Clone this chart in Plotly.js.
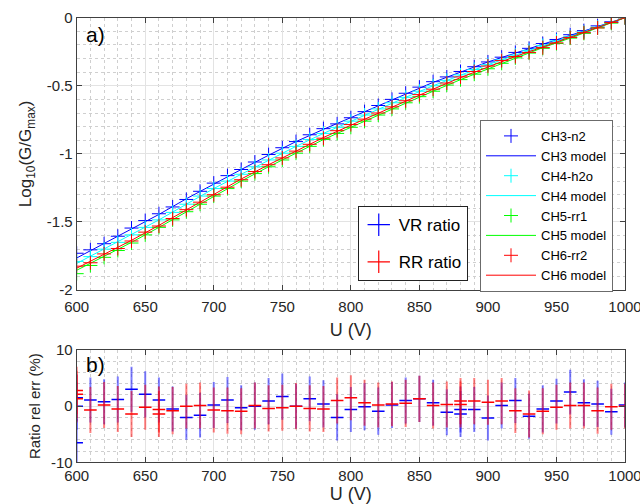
<!DOCTYPE html>
<html>
<head>
<meta charset="utf-8">
<script src="https://cdn.plot.ly/plotly-3.0.1.min.js"></script>
<style>html,body{margin:0;padding:0;background:#fff}#chart{width:640px;height:504px}</style>
</head>
<body>
<div id="chart"></div>
<script>
// ---------- data ----------
const U = [600,610,620,630,640,650,660,670,680,690,700,710,720,730,740,750,760,770,780,790,800,810,820,830,840,850,860,870,880,890,900,910,920,930,940,950,960,970,980,990,1000];
const ch3 = [-1.73,-1.705,-1.66,-1.605,-1.545,-1.49,-1.44,-1.39,-1.335,-1.275,-1.215,-1.16,-1.115,-1.06,-1.005,-0.955,-0.91,-0.86,-0.815,-0.78,-0.735,-0.69,-0.645,-0.60,-0.555,-0.51,-0.47,-0.435,-0.395,-0.36,-0.325,-0.29,-0.255,-0.225,-0.19,-0.16,-0.125,-0.095,-0.06,-0.03,0];
const ch4 = [-1.79,-1.755,-1.70,-1.65,-1.595,-1.54,-1.485,-1.43,-1.37,-1.31,-1.255,-1.20,-1.15,-1.095,-1.045,-0.995,-0.945,-0.895,-0.85,-0.805,-0.76,-0.715,-0.67,-0.625,-0.585,-0.54,-0.50,-0.46,-0.42,-0.38,-0.345,-0.31,-0.275,-0.24,-0.205,-0.17,-0.14,-0.105,-0.07,-0.035,0];
const ch5 = [-1.88,-1.82,-1.76,-1.71,-1.655,-1.595,-1.54,-1.485,-1.425,-1.37,-1.31,-1.255,-1.20,-1.145,-1.095,-1.045,-0.995,-0.945,-0.895,-0.85,-0.805,-0.76,-0.715,-0.67,-0.625,-0.58,-0.54,-0.495,-0.455,-0.415,-0.375,-0.335,-0.295,-0.26,-0.225,-0.19,-0.15,-0.115,-0.075,-0.04,0];
const ch6 = [-1.825,-1.80,-1.735,-1.695,-1.64,-1.575,-1.53,-1.475,-1.41,-1.355,-1.30,-1.245,-1.19,-1.13,-1.08,-1.03,-0.98,-0.93,-0.885,-0.83,-0.785,-0.745,-0.70,-0.655,-0.61,-0.565,-0.525,-0.48,-0.435,-0.395,-0.355,-0.315,-0.285,-0.255,-0.22,-0.185,-0.145,-0.11,-0.075,-0.035,0];

const Um = [600,620,640,660,680,700,720,740,760,780,800,820,840,860,880,900,920,940,960,980,1000];
const ch3Model = [-1.765,-1.66,-1.555,-1.445,-1.33,-1.22,-1.115,-1.01,-0.91,-0.82,-0.735,-0.645,-0.56,-0.475,-0.40,-0.325,-0.26,-0.195,-0.13,-0.065,0];
const ch4Model = [-1.805,-1.70,-1.595,-1.485,-1.37,-1.255,-1.15,-1.045,-0.945,-0.85,-0.76,-0.67,-0.585,-0.50,-0.42,-0.345,-0.275,-0.205,-0.14,-0.07,0];
const ch5Model = [-1.855,-1.755,-1.65,-1.54,-1.425,-1.31,-1.20,-1.095,-0.995,-0.895,-0.805,-0.715,-0.625,-0.54,-0.455,-0.375,-0.295,-0.22,-0.15,-0.075,0];
const ch6Model = [-1.84,-1.74,-1.635,-1.525,-1.41,-1.295,-1.185,-1.08,-0.98,-0.88,-0.79,-0.70,-0.61,-0.525,-0.44,-0.36,-0.285,-0.215,-0.145,-0.07,0];

const vrU   = [600,600,600,610,620,630,640,650,660,670,680,690,700,710,720,730,740,750,760,770,780,790,800,810,820,830,840,850,860,870,880,880,890,900,910,920,930,940,950,960,970,980,990,1000];
const vrVal = [1.5,0,-6.5,1.1,0.8,1.2,3.0,2.1,1.1,-0.5,-2.0,-1.6,0.2,1.1,-0.3,0,0.9,1.7,0,1.3,0.4,-2.0,-0.6,-0.1,-0.9,0.2,1.0,1.3,0.6,-1.1,-0.6,-1.4,-0.6,-2.1,0.1,1.0,-1.8,-0.5,0.9,2.5,0.6,0.4,-1.0,0.2];
const vrErr = [4.2,4.2,4.2,4.0,4.0,4.1,4.0,4.1,4.0,4.0,4.0,4.0,4.1,4.1,4.0,4.2,4.1,4.1,4.0,4.0,4.2,4.1,4.0,4.2,4.2,4.1,4.1,4.1,4.1,4.1,4.1,4.1,4.0,4.0,4.1,4.0,4.0,4.2,4.0,4.0,4.2,4.1,4.1,4.0];
const rrU   = [600,600,600,610,620,630,640,650,660,660,670,680,690,700,710,720,730,740,750,760,770,780,790,800,810,820,830,840,850,860,870,880,880,890,900,910,920,930,940,950,960,970,980,990,1000];
const rrVal = [2.8,2.1,1.3,-0.7,0.2,-0.5,-1.4,-0.2,-0.6,-1.4,-0.8,0,0.1,-0.7,-0.8,-0.9,0.1,-0.4,-0.3,0,-0.4,-0.5,1.0,1.5,0.6,0.2,0.4,0.5,1.3,0.1,0.3,0.9,0.3,0.9,0.7,0.9,-0.8,-1.4,-0.9,-0.2,0.1,0.1,-0.8,-0.1,0];
const rrErr = [4.2,4.2,4.2,4.1,4.1,4.1,4.1,4.0,4.1,4.1,4.2,4.0,4.1,4.0,4.1,4.1,4.1,4.1,4.1,4.1,4.1,4.1,4.1,4.0,4.1,4.0,4.0,4.2,4.1,4.1,4.1,4.1,4.1,4.1,4.0,4.1,4.0,4.2,4.1,4.0,4.1,4.1,4.1,4.1,4.0];

const xTicks = [600,650,700,750,800,850,900,950,1000];
const yTicksA = [0,-0.5,-1,-1.5,-2];
const yTickTextA = ['0','-0.5','-1','-1.5','-2'];
const yTicksB = [10,0,-10];
const yTickTextB = ['10','0','-10'];

// ---------- styling ----------
const FONT = 'Liberation Sans, Arial, Helvetica, sans-serif';
const TXT = '#262626';
const channels = [
  {name:'CH3-n2', model:'CH3 model', y:ch3, ym:ch3Model, c:'#0000ff'},
  {name:'CH4-h2o', model:'CH4 model', y:ch4, ym:ch4Model, c:'#00ffff'},
  {name:'CH5-rr1', model:'CH5 model', y:ch5, ym:ch5Model, c:'#00ff00'},
  {name:'CH6-rr2', model:'CH6 model', y:ch6, ym:ch6Model, c:'#ff0000'}
];
const traces = [];
channels.forEach(ch => {
  traces.push({x:U, y:ch.y, type:'scatter', mode:'markers', name:ch.name, legend:'legend',
    marker:{symbol:'cross-thin', size:10, color:ch.c, line:{color:ch.c, width:1}}, xaxis:'x', yaxis:'y'});
  traces.push({x:Um, y:ch.ym, type:'scatter', mode:'lines', name:ch.model, legend:'legend',
    line:{color:ch.c, width:1}, xaxis:'x', yaxis:'y'});
});
function errTrace(x, y, e, solid, faint){
  return {x:x, y:y, type:'scatter', mode:'markers', showlegend:false, xaxis:'x2', yaxis:'y2',
    marker:{symbol:'line-ew', size:9, color:solid, line:{color:solid, width:1.5}},
    error_y:{type:'data', array:e, symmetric:true, color:faint, thickness:2, width:0}};
}
traces.push(errTrace(vrU, vrVal, vrErr, '#0000ff', 'rgba(0,0,255,0.5)'));
traces.push(errTrace(rrU, rrVal, rrErr, '#ff0000', 'rgba(255,0,0,0.5)'));
// legend-only entries for panel b series
traces.push({x:[null], y:[null], type:'scatter', mode:'markers', name:'VR ratio', legend:'legend2', legendgroup:'vr',
  marker:{symbol:'cross-thin', size:16, color:'#0000ff', line:{color:'#0000ff', width:1.2}}, xaxis:'x2', yaxis:'y2'});
traces.push({x:[null], y:[null], type:'scatter', mode:'markers', name:'RR ratio', legend:'legend2', legendgroup:'rr',
  marker:{symbol:'cross-thin', size:16, color:'#ff0000', line:{color:'#ff0000', width:1.2}}, xaxis:'x2', yaxis:'y2'});

const axBase = {
  showline:true, linecolor:'#404040', linewidth:1, mirror:'ticks',
  ticks:'inside', ticklen:5, tickcolor:'#404040', tickwidth:1,
  showgrid:true, gridcolor:'#e3e3e3', gridwidth:1, zeroline:false,
  tickfont:{family:FONT, size:15, color:TXT}, automargin:false, ticklabeloverflow:'allow'
};
const xDom = [0.1198, 0.9766];
const layout = {
  width:640, height:504, margin:{l:0, r:0, t:0, b:0},
  paper_bgcolor:'#fff', plot_bgcolor:'#fff', font:{family:FONT, color:TXT},
  xaxis: Object.assign({}, axBase, {domain:xDom, anchor:'y', range:[600,1000], tickvals:xTicks, ticklabelstandoff:3,
    minor:{dtick:10, showgrid:true, gridcolor:'#cfcfcf', griddash:'dot', ticklen:0},
    title:{text:'U (V)', font:{family:FONT, size:18, color:TXT}, standoff:9}}),
  yaxis: Object.assign({}, axBase, {domain:[0.4246, 0.9649], anchor:'x', range:[-2,0], tickvals:yTicksA, ticktext:yTickTextA,
    minor:{dtick:0.1, showgrid:true, gridcolor:'#cfcfcf', griddash:'dot', ticklen:0},
    title:{text:'Log<sub>10</sub>(G/G<sub>max</sub>)', font:{family:FONT, size:17, color:TXT}, standoff:10}}),
  xaxis2: Object.assign({}, axBase, {domain:xDom, anchor:'y2', range:[600,1000], tickvals:xTicks,
    minor:{dtick:10, showgrid:true, gridcolor:'#cfcfcf', griddash:'dot', ticklen:0},
    title:{text:'U (V)', font:{family:FONT, size:18, color:TXT}, standoff:3}}),
  yaxis2: Object.assign({}, axBase, {domain:[0.0827, 0.3056], anchor:'x2', range:[-10,10], tickvals:yTicksB, ticktext:yTickTextB,
    minor:{dtick:2, showgrid:true, gridcolor:'#cfcfcf', griddash:'dot', ticklen:0},
    title:{text:'Ratio rel err (%)', font:{family:FONT, size:15, color:TXT}, standoff:6}}),
  legend:{x:0.75, y:0.762, xanchor:'left', yanchor:'top', bgcolor:'#fff', bordercolor:'#6b6b6b', borderwidth:1,
    font:{family:FONT, size:13, color:'#000'}, itemwidth:50, tracegroupgap:0},
  legend2:{x:0.559, y:0.591, xanchor:'left', yanchor:'top', bgcolor:'#fff', bordercolor:'#222', borderwidth:1,
    font:{family:FONT, size:17, color:'#000'}, tracegroupgap:12},
  annotations:[
    {text:'a)', xref:'paper', yref:'paper', x:84/640, y:1-35/504, xanchor:'left', yanchor:'middle', showarrow:false, font:{family:FONT, size:21, color:'#000'}},
    {text:'b)', xref:'paper', yref:'paper', x:84/640, y:1-364/504, xanchor:'left', yanchor:'middle', showarrow:false, font:{family:FONT, size:21, color:'#000'}}
  ],
  showlegend:true
};
Plotly.newPlot('chart', traces, layout, {displayModeBar:false, staticPlot:true});
</script>
</body>
</html>
